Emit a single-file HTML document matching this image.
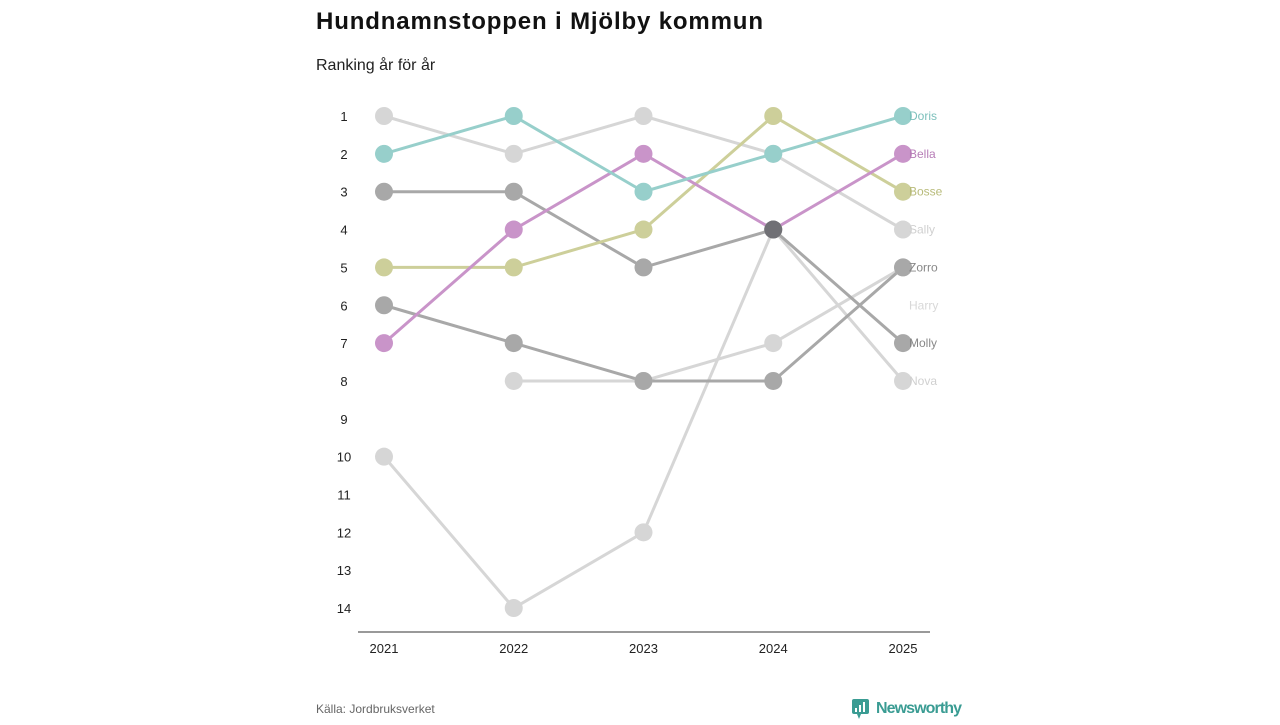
<!DOCTYPE html>
<html><head><meta charset="utf-8"><style>
body{margin:0;background:#fff;font-family:"Liberation Sans",sans-serif}
</style></head><body>
<svg width="1280" height="720" xmlns="http://www.w3.org/2000/svg">
<text x="316" y="29" font-size="24" font-weight="bold" fill="#111" textLength="447">Hundnamnstoppen i Mjölby kommun</text>
<text x="316" y="70" font-size="16" fill="#222">Ranking år för år</text>
<g id="yt"></g><g id="lines"></g><g id="dots"></g><g id="labels"></g>
<line x1="358" y1="632" x2="930" y2="632" stroke="#333" stroke-width="1"/>
<g id="xt"></g>
<text x="316" y="713" font-size="12" fill="#666">Källa: Jordbruksverket</text>
<g>
<rect x="852" y="699" width="17" height="15" rx="2" fill="#3a9c93"/>
<polygon points="857,714 861,714 859,719" fill="#3a9c93"/>
<rect x="855" y="708" width="2" height="4" fill="#fff"/><rect x="859" y="705" width="2" height="7" fill="#fff"/><rect x="863" y="702" width="2" height="10" fill="#fff"/>
<text x="876" y="713" font-size="16" font-weight="bold" fill="#3a9c93" textLength="86">Newsworthy</text>
</g>
</svg>
<script>
const years=[2021,2022,2023,2024,2025];
const names=["Sally","Harry","Nova","Zorro","Molly","Bosse","Bella","Doris"];
const ranks=[[1,2,1,2,4],[10,14,12,4,8],[null,8,8,7,5],[6,7,8,8,5],[3,3,5,4,7],[5,5,4,1,3],[7,4,2,4,2],[2,1,3,2,1]];
const labelRanks=[4,6,8,5,7,3,2,1];
const colors=["#d6d6d6","#d6d6d6","#d6d6d6","#a8a8a8","#a8a8a8","#cdcf9a","#c994c9","#97cfcb"];
const labelColors=["#d0d0d0","#d8d8d8","#d0d0d0","#888","#888","#b8bb7a","#b77db7","#7cc0bb"];
const yTicks=[1,2,3,4,5,6,7,8,9,10,11,12,13,14];
const xs=y=>384+(y-2021)*129.75;
const ys=r=>116+(r-1)*37.85;
const NS="http://www.w3.org/2000/svg";
function mk(t,a,p){const e=document.createElementNS(NS,t);for(const k in a)e.setAttribute(k,a[k]);document.getElementById(p).appendChild(e);return e;}
yTicks.forEach(r=>{const t=mk("text",{x:344,y:ys(r)+5,"font-size":13,fill:"#222","text-anchor":"middle"},"yt");t.textContent=r;

});
years.forEach(y=>{const t=mk("text",{x:xs(y),y:653,"font-size":13,fill:"#222","text-anchor":"middle"},"xt");t.textContent=y;

});
const count={};
names.forEach((n,i)=>{
 let d="";ranks[i].forEach((r,j)=>{if(r==null)return;d+=(d?"L":"M")+xs(years[j])+","+ys(r);});
 const p=mk("path",{d:d,fill:"none",stroke:colors[i],"stroke-width":3},"lines");
 
 
 ranks[i].forEach((r,j)=>{if(r==null)return;
  const k=j+"_"+r;count[k]=(count[k]||0)+1;
  const c=mk("circle",{cx:xs(years[j]),cy:ys(r),r:9,fill:count[k]>=3?"#707075":colors[i]},"dots");
  
  });
 const t=mk("text",{x:909,y:ys(labelRanks[i])+4,"font-size":12,fill:labelColors[i]},"labels");t.textContent=n;
 
 
});
</script>
</body></html>
